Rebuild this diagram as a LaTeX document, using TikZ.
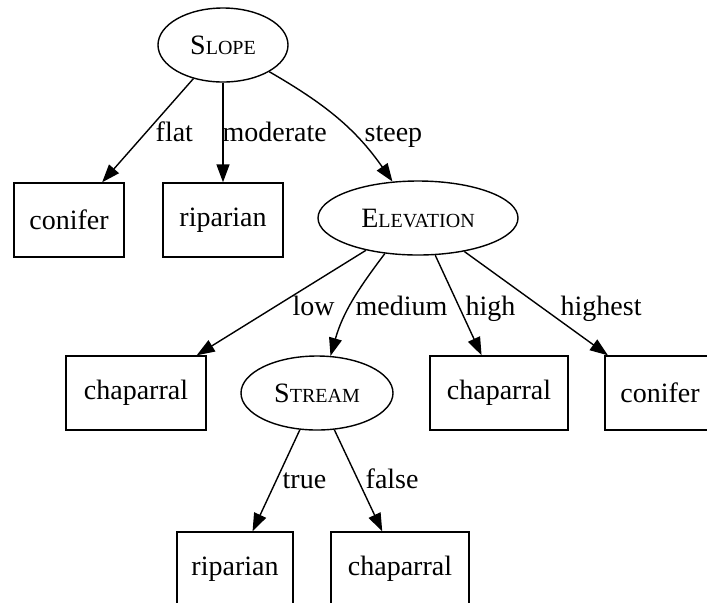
\documentclass[tikz,border=0pt]{standalone}
\usepackage{fontspec}
\setmainfont{Liberation Serif}
\usetikzlibrary{shapes.geometric,arrows.meta}
\newcommand{\scname}[2]{#1{\fontsize{10}{12}\selectfont #2}}
\begin{document}
\begin{tikzpicture}[x=.5pt,y=-.5pt,line width=.7pt,font=\fontsize{14}{16}\selectfont,
  test/.style={draw,ellipse,inner sep=0pt,minimum height=37pt},
  leaf/.style={draw,rectangle,inner sep=0pt,minimum height=37pt},
  edge/.style={-{Triangle[length=9pt,width=6.5pt]}},
  lbl/.style={anchor=west,inner sep=0pt,text height=9pt,text depth=3pt}]
\useasboundingbox (0,0) rectangle (707,602);
\node[test,minimum width=65pt] (slope) at (223,45) {\scname{S}{LOPE}};
\node[leaf,minimum width=55pt] (conA) at (69,220) {conifer};
\node[leaf,minimum width=60pt] (ripA) at (223,220) {riparian};
\node[test,minimum width=100pt] (elev) at (418,218) {\scname{E}{LEVATION}};
\node[leaf,minimum width=70pt] (chapA) at (136,393) {chaparral};
\node[test,minimum width=76pt] (stream) at (317,393) {\scname{S}{TREAM}};
\node[leaf,minimum width=69pt] (chapB) at (499,393) {chaparral};
\node[leaf,minimum width=55pt] (conB) at (660,393) {conifer};
\node[leaf,minimum width=58pt] (ripB) at (235,569) {riparian};
\node[leaf,minimum width=69pt] (chapC) at (400,569) {chaparral};
\draw[edge] (slope)--(conA);\draw[edge] (slope)--(ripA);
\draw[edge] (slope) to[out=-30,in=125] (elev);
\draw[edge] (elev)--(chapA);\draw[edge] (elev.-133) to[out=-127,in=74] (stream.70);
\draw[edge] (elev)--(chapB);\draw[edge] (elev)--(conB);
\draw[edge] (stream)--(ripB);\draw[edge] (stream)--(chapC);
\node[lbl] (flat) at (155,135) {flat};\node[lbl] (moderate) at (222,135) {moderate};
\node[lbl] (steep) at (364,135) {steep};
\node[lbl] (low) at (292,309) {low};\node[lbl] (medium) at (355,309) {medium};
\node[lbl] (high) at (465,309) {high};\node[lbl] (highest) at (560,309) {highest};
\node[lbl] (true) at (282,482) {true};\node[lbl] (false) at (365,482) {false};
\end{tikzpicture}
\end{document}
